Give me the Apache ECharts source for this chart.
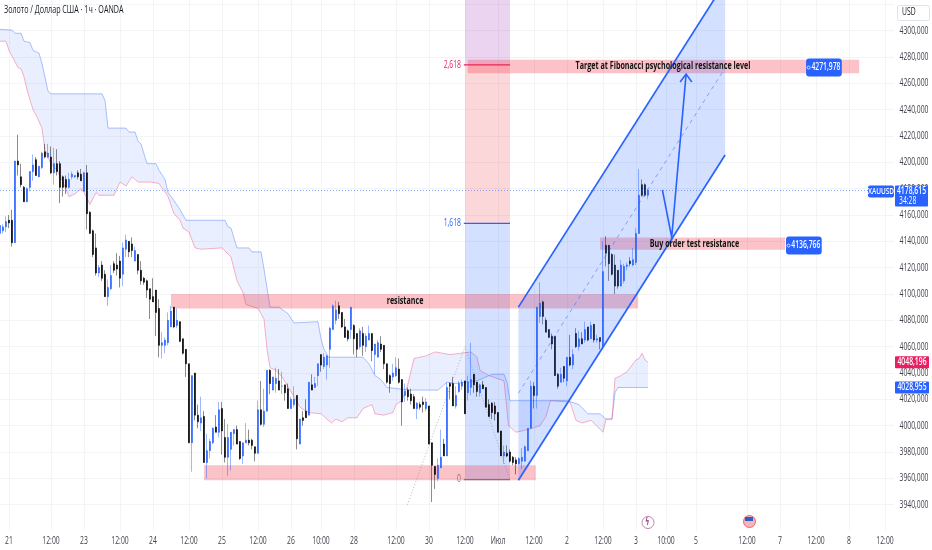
<!DOCTYPE html>
<html><head><meta charset="utf-8">
<style>html,body{margin:0;padding:0;background:#fff}#c{width:932px;height:550px}</style>
<script src="https://cdn.jsdelivr.net/npm/echarts@6/dist/echarts.min.js"></script></head>
<body><div id="c"></div>
<script>
const title='Золото / Доллар США · 1ч · OANDA';
const tickBars=[3,17,28,40,51,63,74,86,97,107,118,132,143,155,166,178,189,201,212,222,232,249,260,272,283,295];
const tickLabels=['21','12:00','23','12:00','24','12:00','25','12:00','26','10:00','28','12:00','30','12:00','Июл','12:00','2','12:00','3','10:00','5','12:00','7','12:00','8','12:00'];
const opens=[4146,4148,4151,4156,4156,4139,4201,4189,4181,4170,4181,4193,4202,4189,4196,4208,4204,4204,4192,4199,4199,4189,4187,4181,4189,4189,4192,4191,4178,4192,4162,4148,4135,4116,4122,4115,4098,4104,4123,4122,4125,4115,4134,4140,4138,4125,4130,4118,4112,4110,4104,4098,4103,4089,4061,4061,4063,4075,4090,4076,4079,4066,4058,4047,3987,4040,4008,4002,4007,3972,3981,3987,3999,3995,4013,3991,3976,3982,3994,3997,3988,3977,3987,3989,3989,3984,3979,4012,4001,4011,4042,4027,4032,4034,4030,4031,4028,4013,4016,4023,3986,4006,4011,4008,4031,4029,4038,4054,4045,4046,4058,4073,4080,4091,4086,4075,4072,4073,4076,4070,4060,4070,4060,4065,4070,4054,4052,4062,4061,4047,4038,4037,4038,4043,4035,4023,4027,4024,4022,4013,4016,4018,4013,4015,3987,3969,3960,3968,3986,3977,4032,4032,4015,4026,4030,4034,4025,4029,4039,4033,4025,4031,4029,4016,4017,4015,4010,3996,3977,3979,3980,3976,3974,3971,3973,3973,3981,3998,4030,4023,4083,4094,4080,4073,4068,4068,4039,4033,4045,4034,4052,4046,4070,4060,4066,4065,4075,4066,4077,4065,4067,4060,4137,4137,4130,4122,4118,4106,4110,4121,4125,4122,4124,4146,4183,4183,4175];
const highs=[4154,4153,4159,4160,4164,4201,4221,4199,4182,4181,4193,4206,4204,4197,4208,4214,4214,4212,4211,4210,4201,4190,4190,4192,4193,4190,4194,4195,4193,4198,4163,4149,4146,4122,4125,4118,4111,4122,4125,4131,4129,4139,4145,4140,4143,4136,4130,4125,4113,4111,4104,4112,4103,4096,4071,4067,4086,4091,4090,4089,4079,4066,4058,4047,4038,4040,4016,4022,4011,3994,3990,3999,4008,4018,4018,4005,4001,3995,3997,4000,3988,3987,4002,3997,3990,3984,4019,4034,4028,4042,4043,4037,4044,4043,4041,4030,4032,4022,4030,4023,4005,4011,4020,4033,4039,4037,4047,4054,4055,4054,4075,4092,4095,4094,4086,4081,4073,4090,4077,4070,4074,4075,4070,4076,4070,4062,4065,4068,4061,4047,4039,4047,4052,4051,4035,4032,4029,4028,4024,4018,4018,4022,4021,4015,3987,3969,3975,3997,3990,4033,4033,4037,4030,4034,4035,4034,4038,4063,4039,4033,4032,4034,4029,4020,4018,4018,4010,3996,3985,3985,3982,3977,3976,3976,3983,3985,3998,4034,4033,4090,4109,4095,4082,4073,4070,4068,4040,4044,4045,4052,4069,4058,4074,4072,4071,4079,4075,4079,4077,4069,4066,4140,4144,4137,4131,4130,4118,4126,4123,4124,4128,4135,4150,4195,4187,4184,4180];
const lows=[4143,4146,4147,4150,4136,4139,4190,4181,4170,4170,4178,4186,4190,4189,4195,4203,4203,4191,4183,4190,4169,4174,4176,4180,4187,4188,4187,4186,4178,4149,4146,4128,4114,4113,4110,4098,4091,4103,4116,4114,4105,4106,4128,4128,4128,4125,4115,4107,4107,4097,4081,4094,4068,4052,4051,4055,4061,4075,4074,4074,4064,4054,4037,3987,3965,4004,3998,3996,3972,3960,3975,3986,3995,3991,3978,3972,3962,3966,3985,3986,3974,3971,3987,3985,3982,3973,3979,4000,3999,4011,4024,4027,4025,4027,4024,4019,4013,4013,4014,3982,3986,4000,4006,4008,4027,4029,4030,4041,4043,4035,4044,4073,4077,4081,4074,4067,4064,4066,4054,4052,4058,4053,4056,4065,4049,4039,4052,4056,4043,4032,4025,4034,4037,4032,4000,4018,4019,4016,4013,4005,4012,4010,4011,3986,3942,3952,3958,3968,3977,3977,4020,4015,4013,4025,4027,4009,4019,4023,4025,4022,4022,4028,4014,4007,4005,4004,3995,3977,3971,3976,3972,3970,3963,3970,3967,3973,3981,3998,4013,4013,4078,4077,4071,4067,4058,4038,4028,4033,4033,4030,4045,4043,4059,4057,4062,4063,4064,4066,4063,4063,4058,4058,4121,4110,4114,4100,4104,4106,4108,4118,4121,4121,4122,4146,4174,4174,4172];
const closes=[4152,4151,4155,4154,4139,4201,4198,4183,4170,4180,4193,4198,4190,4197,4207,4204,4207,4192,4199,4193,4181,4181,4181,4187,4191,4190,4189,4186,4192,4161,4146,4130,4116,4120,4112,4098,4105,4114,4118,4119,4112,4135,4141,4132,4133,4133,4118,4110,4109,4103,4096,4094,4086,4061,4063,4065,4080,4087,4075,4080,4064,4055,4047,3987,4038,4008,4003,4006,3972,3981,3988,3998,3995,4012,3996,3976,3991,3995,3997,3986,3975,3987,3989,3987,3985,3979,4012,4001,4011,4042,4032,4037,4036,4027,4030,4025,4013,4020,4020,3990,4005,4004,4006,4033,4027,4032,4047,4046,4052,4053,4074,4091,4088,4085,4075,4067,4066,4090,4066,4058,4072,4061,4068,4070,4057,4062,4063,4058,4047,4033,4032,4040,4044,4033,4018,4026,4022,4019,4013,4017,4014,4016,4018,3986,3970,3963,3970,3976,3977,4029,4030,4015,4023,4032,4033,4009,4033,4035,4031,4026,4031,4028,4014,4007,4010,4009,3995,3977,3980,3977,3973,3972,3971,3975,3976,3984,3998,4030,4023,4090,4093,4083,4071,4067,4062,4038,4030,4039,4036,4052,4046,4054,4060,4066,4062,4073,4065,4076,4065,4066,4064,4117,4131,4123,4115,4106,4106,4122,4121,4122,4123,4126,4146,4175,4175,4175,4178.6];
const cloudBlueBars=[0,4,5,7,8,10,11,13,14,16,17,34,35,36,42,43,45,46,47,49,52,53,55,56,58,60,62,75,76,77,79,83,84,87,88,90,93,96,98,106,107,108,109.5,119,121,123,125,127,129,133,137,146,149,152,159,162,164,168,169,170,189,193,196,200,202,204,205,206,216];
const cloudBluePrices=[4301,4300.5,4298,4298,4292,4291,4285,4283,4275,4254,4252,4252,4247,4226,4226,4223,4223,4216,4214,4199,4199,4194,4187,4177,4171,4164,4156,4156,4151,4150,4135,4135,4132,4132,4119,4090,4090,4085,4078,4079,4066,4058,4052,4052,4052,4047,4038,4035,4029,4028,4027,4027,4033,4032,4034,4037,4039,4039,4033,4019,4019,4016,4009,4009,4005,4005,4025,4029,4029];
const cloudPinkBars=[0,2,3,6,7,8,9,11,12,14,15,17,19,21,23,25,27,28,30,32,33,38,40,42,44,46,50,53,56,58,60,61,63,65,67,74,77,78,79,81,82,86,88,89,90,92,94,98,100,102,103,107,110.5,112,114,116,119,121,124,125,128,131,132,134,136,138,142,145,150,157,159,160,163,168,169.5,172,176,180,182,183.5,190,192,194,197,201,202,204,205,207,209,212,213,214,215,216];
const cloudPinkPrices=[4292,4292,4285,4272,4271,4265,4255,4240,4236,4226,4209,4199,4194,4185,4174,4176,4180,4177,4168,4177,4175,4175,4185,4182,4189,4185,4185,4184,4174,4161,4156,4150,4147,4135,4134,4135,4128,4119,4110,4101,4092,4089,4081,4058,4044,4042,4037,4022,4014,4011,4010,4009,4002,4005,4003,4006,4006,4013,4016,4009,4008,4010,4016,4019,4032,4051,4053,4056,4054,4056,4052,4042,4038,4034,4000,3995,3997,4000,4007,4019,4018,4004,4002,4004,3995,4005,4005,4036,4038,4041,4050,4051,4055,4050,4048.2];
const zoneBars=[[57,212.7],[68,178.6],[200,261.7],[155.9,286.4]];
const zonePrices=[[4100,4089],[3970,3958.6],[4143,4133.6],[4278,4267.6]];
const zoneTexts=['resistance','','Buy order test resistance','Target at Fibonacci psychological resistance level'];
const zoneTextBars=[135,,231.5,221];
const fibBars=[155,170];
const fibLevels=[4340,4274,4153.7,3959];
const fibColors=['rgba(156,39,176,0.2)','rgba(242,54,69,0.2)','rgba(41,98,255,0.2)'];
const fibLineColors=['#e91e63','#2962ff','#787b86'];
const fibNames=['2,618','1,618','0'];
const channelBars=[172.8,241.7];
const channelUpper=[4090,4336.8];
const channelMid=[4024.6,4271.7];
const channelLower=[3958.6,4205.6];
const pathBars=[220.8,223.9,228.7];
const pathPrices=[4179,4143,4267];
const arrowBars=[226.7,228.7,230.6];
const arrowPrices=[4261,4267,4261];
const fibTrendBars=[135.8,155,170];
const fibTrendPrices=[3940,4060,3959];
const lastPrice=4178.615;
const lastTag=['4178,615','34:28'];
const pairTag='XAUUSD';
const cloudTags=[[4048.196,'4048,196','#e91e63'],[4028.955,'4028,955','#2962ff']];
const noteTags=[[4136.766,'4136,766',262,35.7],[4271.978,'4271,978',268.7,35.7]];

const BLUE='#2962ff';
const FONT='"Open Sans",sans-serif';
const TEXT_SQUEEZE=0.68;
const N=299;
const cats=Array.from({length:N},(_,i)=>{const k=tickBars.indexOf(i);return k<0?'':tickLabels[k];});
const bars=opens.map((o,i)=>[o,closes[i],lows[i],highs[i]]);
const bodies=opens.map((o,i)=>[o,closes[i],Math.min(o,closes[i]),Math.max(o,closes[i])]);
function pts(xs,ys){return xs.map((x,i)=>[x,ys[i]]);}
function overlay(name,z,build){return {name,type:'custom',xAxisIndex:1,yAxisIndex:0,z,silent:true,clip:false,
  data:[0],renderItem:(p,api)=>build(api),animation:false};}
function poly(api,points,fill){return {type:'polygon',shape:{points:points.map(a=>api.coord(a))},style:{fill:fill,stroke:null}};}
function line(api,points,stroke,w,dash){return {type:'polyline',shape:{points:points.map(a=>api.coord(a))},style:{fill:null,stroke,lineWidth:w,lineDash:dash||null}};}
function txt(x,y,t,fs,col,al,w){return {type:'text',x,y,style:{text:t,font:(w||'normal')+' '+fs+'px '+FONT,fill:col,align:al||'left',verticalAlign:'middle'}};}

const series=[
 overlay('cloud',2,api=>{
  const b=pts(cloudBlueBars,cloudBluePrices),p=pts(cloudPinkBars,cloudPinkPrices);
  return {type:'group',children:[
   poly(api,b.concat(p.slice().reverse()),'rgba(41,98,255,0.1)'),
   line(api,b,'rgba(41,98,255,0.38)',1),
   line(api,p,'rgba(242,54,100,0.38)',1)]};}),
 overlay('fibonacci',3,api=>{
  const ch=[];
  fibColors.forEach((c,i)=>ch.push(poly(api,[[fibBars[0],fibLevels[i]],[fibBars[1],fibLevels[i]],[fibBars[1],fibLevels[i+1]],[fibBars[0],fibLevels[i+1]]],c)));
  fibNames.forEach((n,i)=>{
    const l=fibLevels[i+1];
    ch.push(line(api,[[fibBars[0]-0.4,l],[fibBars[1],l]],fibLineColors[i],1.2));
    const q=api.coord([fibBars[0],l]);
    ch.push(txt(q[0]-4,q[1],n,10,fibLineColors[i],'right'));
  });
  ch.push(line(api,pts(fibTrendBars,fibTrendPrices),'rgba(120,123,134,0.55)',1,[1,2]));
  return {type:'group',children:ch};}),
 overlay('zones',4,api=>{
  const ch=[];
  zoneBars.forEach((b,i)=>ch.push(poly(api,[[b[0],zonePrices[i][0]],[b[1],zonePrices[i][0]],[b[1],zonePrices[i][1]],[b[0],zonePrices[i][1]]],'rgba(242,54,69,0.3)')));
  return {type:'group',children:ch};}),
 {name:'XAUUSD wicks',type:'candlestick',data:bars,barWidth:1,z:5,silent:true,animation:false,
  itemStyle:{color:'rgba(41,98,255,0.45)',color0:'rgba(0,0,0,0.45)',borderColor:'rgba(41,98,255,0.45)',borderColor0:'rgba(0,0,0,0.45)',borderWidth:1}},
 {name:'XAUUSD',type:'candlestick',data:bodies,barWidth:2,z:6,silent:true,animation:false,
  itemStyle:{color:BLUE,color0:'#000',borderColor:BLUE,borderColor0:'#000',borderWidth:0.6}},
 overlay('channel',7,api=>{
  const x=channelBars;
  return {type:'group',children:[
   poly(api,[[x[0],channelUpper[0]],[x[1],channelUpper[1]],[x[1],channelLower[1]],[x[0],channelLower[0]]],'rgba(41,98,255,0.2)'),
   line(api,pts(x,channelUpper),BLUE,1.7),
   line(api,pts(x,channelLower),BLUE,1.7),
   line(api,pts(x,channelMid),'rgba(41,98,255,0.5)',1,[4,4])]};}),
 overlay('path',8,api=>({type:'group',children:[
   line(api,pts(pathBars,pathPrices),BLUE,1.6),
   line(api,pts(arrowBars,arrowPrices),BLUE,1.6)]})),
 overlay('notes',9,api=>{
  const ch=[];
  zoneTexts.forEach((t,i)=>{ if(!t)return;
    const m=(zonePrices[i][0]+zonePrices[i][1])/2,q=api.coord([zoneTextBars[i],m]);
    ch.push(txt(q[0],q[1],t,10.5,'#111','center','bold'));});
  noteTags.forEach(n=>{
    const q=api.coord([n[2],n[0]]);
    ch.push({type:'rect',shape:{x:q[0],y:q[1]-9,width:n[3],height:18,r:3},style:{fill:BLUE}});
    ch.push(txt(q[0]+n[3]/2+2,q[1],n[1],10,'#fff','center','600'));
    ch.push({type:'circle',shape:{cx:q[0]+2.5,cy:q[1],r:1.5},style:{fill:BLUE,stroke:'#fff',lineWidth:0.8}});
  });
  return {type:'group',children:ch};}),
 overlay('last price',9,api=>{
  const q=api.coord([0,lastPrice]),ch=[];
  ch.push({type:'line',shape:{x1:0,y1:q[1],x2:868,y2:q[1]},style:{stroke:'rgba(41,98,255,0.55)',lineWidth:1,lineDash:[1,2]}});
  ch.push({type:'rect',shape:{x:868,y:q[1]-5,width:26,height:12,r:2},style:{fill:BLUE}});
  ch.push(txt(881,q[1]+1,pairTag,9.5,'#fff','center','600'));
  ch.push({type:'rect',shape:{x:895,y:q[1]-5,width:33,height:21,r:1},style:{fill:BLUE}});
  ch.push(txt(911.5,q[1]+1,lastTag[0],10,'#fff','center','600'));
  ch.push(txt(899,q[1]+11,lastTag[1],10,'#fff','left'));
  cloudTags.forEach(t=>{
    const r=api.coord([0,t[0]]);
    ch.push({type:'rect',shape:{x:895,y:r[1]-6,width:34,height:12,r:1},style:{fill:t[2]}});
    ch.push(txt(912,r[1],t[1],10,'#fff','center','600'));
  });
  return {type:'group',children:ch};})
];

const chart=echarts.init(document.getElementById('c'),null,{renderer:'canvas'});
chart.setOption({
 animation:false,backgroundColor:'#fff',
 title:{text:title,left:4,top:5,padding:0,textStyle:{fontFamily:FONT,fontSize:10.5,fontWeight:'normal',color:'#131722'}},
 grid:{left:0,width:894,top:-22,height:553,containLabel:false,outerBoundsMode:'none'},
 xAxis:[
  {type:'category',data:cats,boundaryGap:false,
   axisLine:{show:false},axisTick:{show:false},
   axisLabel:{interval:(i,v)=>v!=='' ,margin:5,fontFamily:FONT,fontSize:10,color:'#3c404a',hideOverlap:false,showMinLabel:true,showMaxLabel:true},
   splitLine:{show:true,interval:(i,v)=>v!=='',lineStyle:{color:'#f3f4f5',width:1}}},
  {type:'value',min:0,max:N-1,show:false}
 ],
 yAxis:[{type:'value',position:'right',min:3920,max:4340,interval:20,scale:true,
   axisLine:{show:false},axisTick:{show:false},
   axisLabel:{margin:5.5,fontFamily:FONT,fontSize:10,color:'#3c404a',
     formatter:v=>(v<3940||v>4300)?'':v+',000'},
   splitLine:{show:true,showMinLine:false,lineStyle:{color:'#f3f4f5',width:1}}}],
 graphic:[
  {type:'rect',left:897,top:5,shape:{width:32,height:15,r:2},style:{fill:'#fff',stroke:'#e0e3eb',lineWidth:1},z:20},
  {type:'text',left:902,top:7,style:{text:'USD',font:'10px '+FONT,fill:'#131722'},z:21},
  {type:'circle',left:641.5,top:516,shape:{r:6},style:{fill:'#fff',stroke:'#c77fb0',lineWidth:1},z:20},
  {type:'text',left:645,top:517,style:{text:'ϟ',font:'bold 10px "DejaVu Sans"',fill:'#a0528a'},z:21},
  {type:'circle',left:743,top:515,shape:{r:6},style:{fill:'#f5b5bd',stroke:'#e36a6a',lineWidth:1},z:20},
  {type:'rect',left:745,top:517,shape:{width:8,height:4},style:{fill:'#2e5fc8'},z:21}
 ],
 series
});
// The reference's labels are horizontally condensed; no condensed face is installed, so squeeze the real text.
const zr=chart.getZr();
zr.storage.getDisplayList(true).forEach(el=>{
  const t=el.parent;
  if(el.type==='tspan'&&t&&t.type==='text'){t.scaleX=TEXT_SQUEEZE;t.markRedraw();}
});
zr.refresh();
</script></body></html>
